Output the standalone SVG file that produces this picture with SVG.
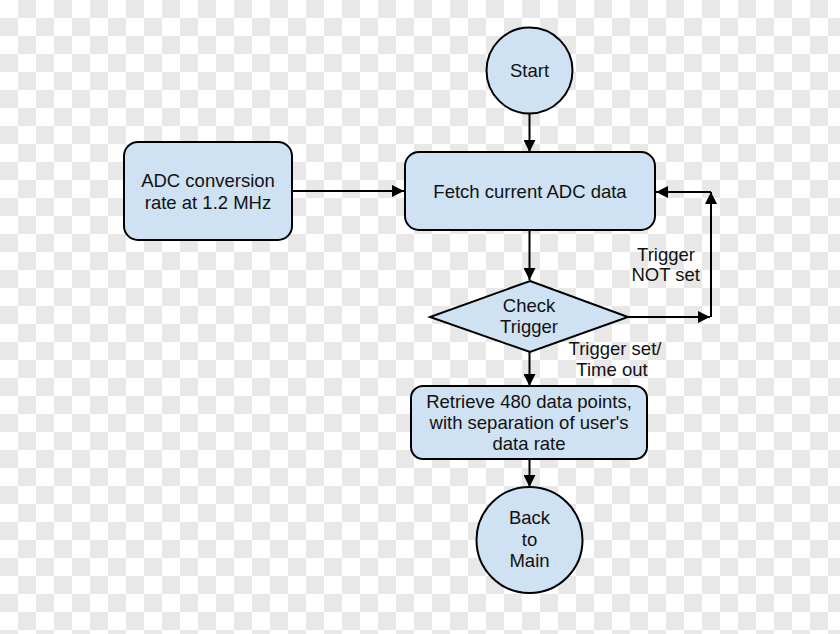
<svg xmlns="http://www.w3.org/2000/svg" width="840" height="634" viewBox="0 0 840 634">
<style>
.node{fill:#cfe2f3;stroke:#000;stroke-width:2}
.lbl{font-family:"Liberation Sans",Arial,sans-serif;font-size:18.5px;fill:#111;text-anchor:middle}
.conn{fill:none;stroke:#000;stroke-width:2}
</style>
<defs>
<pattern id="chk" x="0" y="0" width="36" height="36" patternUnits="userSpaceOnUse">
<rect width="36" height="36" fill="#ffffff"/>
<rect x="18" y="0" width="18" height="18" fill="#e8e8e8"/>
<rect x="0" y="18" width="18" height="18" fill="#e8e8e8"/>
</pattern>
<marker id="arr" viewBox="0 0 10 10" refX="10" refY="5" markerWidth="6" markerHeight="6" markerUnits="strokeWidth" orient="auto">
<path d="M0,0 L10,5 L0,10 z" fill="#000"/>
</marker>
</defs>
<rect width="840" height="634" fill="url(#chk)"/>
<g id="connectors">
<line class="conn" x1="529.5" y1="114" x2="529.5" y2="152" marker-end="url(#arr)"/>
<line class="conn" x1="292" y1="191" x2="404" y2="191" marker-end="url(#arr)"/>
<line class="conn" x1="529.5" y1="230" x2="529.5" y2="280" marker-end="url(#arr)"/>
<line class="conn" x1="628" y1="317" x2="710" y2="317" marker-end="url(#arr)"/>
<line class="conn" x1="711" y1="317" x2="711" y2="192" marker-end="url(#arr)"/>
<line class="conn" x1="711" y1="192" x2="656" y2="192" marker-end="url(#arr)"/>
<line class="conn" x1="529.5" y1="352" x2="529.5" y2="386" marker-end="url(#arr)"/>
<line class="conn" x1="529.5" y1="459" x2="529.5" y2="487" marker-end="url(#arr)"/>
<text class="lbl" x="695" y="261" style="text-anchor:end">Trigger</text>
<text class="lbl" x="700" y="281" style="text-anchor:end">NOT set</text>
<text class="lbl" x="615" y="355">Trigger set/</text>
<text class="lbl" x="612" y="376">Time out</text>
</g>
<g id="start">
<circle class="node" cx="529.5" cy="70.5" r="43"/>
<text class="lbl" x="529.5" y="77">Start</text>
</g>
<g id="adc">
<rect class="node" x="124" y="142" width="168" height="98" rx="14"/>
<text class="lbl" x="208" y="187">ADC conversion</text>
<text class="lbl" x="208" y="209">rate at 1.2 MHz</text>
</g>
<g id="fetch">
<rect class="node" x="405" y="152" width="250" height="78" rx="14"/>
<text class="lbl" x="530" y="197.5">Fetch current ADC data</text>
</g>
<g id="check">
<polygon class="node" points="530,281 628,317 530,352 430,317"/>
<text class="lbl" x="529" y="312">Check</text>
<text class="lbl" x="529" y="333">Trigger</text>
</g>
<g id="retrieve">
<rect class="node" x="411" y="386" width="236" height="73" rx="12"/>
<text class="lbl" x="529" y="408">Retrieve 480 data points,</text>
<text class="lbl" x="529" y="429">with separation of user's</text>
<text class="lbl" x="529" y="450">data rate</text>
</g>
<g id="back">
<circle class="node" cx="529.5" cy="540" r="53"/>
<text class="lbl" x="529.5" y="524">Back</text>
<text class="lbl" x="529.5" y="546">to</text>
<text class="lbl" x="529.5" y="567">Main</text>
</g>
</svg>
